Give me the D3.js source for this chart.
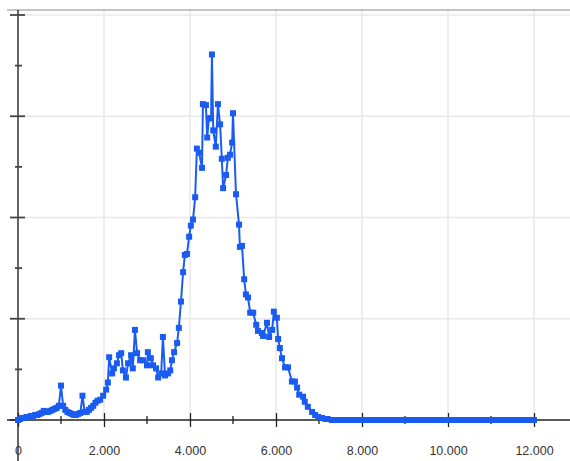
<!DOCTYPE html>
<html>
<head>
<meta charset="utf-8">
<script src="https://cdn.jsdelivr.net/npm/d3@7"></script>
<style>
  body { margin: 0; background: #fff; }
  svg { display: block; font-family: "Liberation Sans", Arial, sans-serif; }
</style>
</head>
<body>
<div id="chart"></div>
<script>
// values (x, y)
const xValues = [
  0, 50, 100, 150, 200, 250, 300, 350, 400, 450, 500, 550, 600, 650, 700, 750, 800, 850, 900, 950,
  1000, 1050, 1100, 1150, 1200, 1250, 1300, 1350, 1400, 1450, 1500, 1550, 1600, 1650, 1700, 1750,
  1800, 1850, 1910, 1980, 2050, 2090, 2120, 2190, 2230, 2300, 2350, 2400, 2440, 2510, 2560, 2630,
  2670, 2720, 2770, 2840, 2910, 3000, 3020, 3090, 3140, 3210, 3260, 3330, 3370, 3420, 3490, 3540,
  3580, 3630, 3700, 3740, 3790, 3840, 3880, 3930, 3980, 4020, 4070, 4120, 4160, 4210, 4280, 4300,
  4370, 4400, 4440, 4490, 4510, 4540, 4600, 4650, 4700, 4740, 4770, 4840, 4880, 4930, 4980, 5000,
  5070, 5140, 5160, 5210, 5260, 5300, 5350, 5400, 5470, 5540, 5580, 5670, 5700, 5790, 5840, 5910,
  5950, 6020, 6050, 6090, 6140, 6210, 6280, 6370, 6440, 6490, 6540, 6630, 6670, 6740, 6840, 6910,
  6980, 7070, 7150, 7200, 7300, 7400, 7500, 7600, 7700, 7800, 7900, 8000, 8100, 8200, 8300, 8400,
  8500, 8600, 8700, 8800, 8900, 9000, 9100, 9200, 9300, 9400, 9500, 9600, 9700, 9800, 9900, 10000,
  10100, 10200, 10300, 10400, 10500, 10600, 10700, 10800, 10900, 11000, 11100, 11200, 11300, 11400,
  11500, 11600, 11700, 11800, 11900, 12000
];
const yValues = [
  0, 1, 2, 2, 3, 3, 4, 4, 5, 5, 6, 7, 9, 8, 8, 9, 10, 11, 12, 14,
  34, 14, 10, 8, 7, 6, 5, 5, 6, 7, 24, 8, 8, 10, 12, 14,
  17, 19, 20, 24, 30, 37, 62, 46, 51, 56, 64, 66, 49, 42, 56, 64,
  51, 89, 66, 59, 59, 54, 67, 61, 54, 51, 42, 46, 82, 44, 46, 49,
  59, 67, 76, 91, 117, 146, 163, 164, 181, 192, 198, 220, 268, 264, 249, 312,
  311, 279, 298, 298, 361, 286, 270, 312, 292, 258, 229, 242, 259, 262, 274, 303,
  223, 193, 171, 172, 139, 124, 121, 106, 106, 94, 88, 86, 83, 96, 82, 89,
  107, 101, 80, 71, 61, 52, 52, 38, 38, 32, 25, 23, 18, 13, 8, 5,
  3, 2, 1, 1, 0, 0, 0, 0, 0, 0, 0, 0, 0, 0, 0, 0,
  0, 0, 0, 0, 0, 0, 0, 0, 0, 0, 0, 0, 0, 0, 0, 0,
  0, 0, 0, 0, 0, 0, 0, 0, 0, 0, 0, 0, 0, 0,
  0, 0, 0, 0, 0, 0
];
const xMajorTicks = [0, 2000, 4000, 6000, 8000, 10000, 12000];
const xMinorTicks = [1000, 3000, 5000, 7000, 9000, 11000];
const yMajorTicks = [0, 100, 200, 300, 400];
const yMinorTicks = [50, 150, 250, 350];

const data = xValues.map((d, i) => ({x: d, y: yValues[i]}));

const W = 570, H = 461;
const x0 = 18, xBase = 420;

const x = d3.scaleLinear().domain([0, 12000]).range([x0, 534]);
const y = d3.scaleLinear().domain([0, 400]).range([xBase, 15]);

const fmt = d3.formatLocale({decimal: ",", thousands: ".", grouping: [3], currency: ["", ""]}).format(",");

const svg = d3.select("#chart").append("svg")
    .attr("width", W)
    .attr("height", H);

// grid
svg.append("g")
    .selectAll("line")
    .data(yMajorTicks.slice(1))
    .enter().append("line")
    .attr("x1", x0).attr("x2", W)
    .attr("y1", d => y(d)).attr("y2", d => y(d))
    .attr("stroke", "#e8e8e8").attr("stroke-width", 1.5);

svg.append("g")
    .selectAll("line")
    .data(xMajorTicks.slice(1))
    .enter().append("line")
    .attr("x1", d => x(d)).attr("x2", d => x(d))
    .attr("y1", 10).attr("y2", xBase)
    .attr("stroke", "#e8e8e8").attr("stroke-width", 1.5);

// top border
svg.append("line")
    .attr("x1", 7).attr("x2", W)
    .attr("y1", 10).attr("y2", 10)
    .attr("stroke", "#8a8a8a").attr("stroke-width", 1.2);

// y axis line and ticks
svg.append("line")
    .attr("x1", x0).attr("x2", x0)
    .attr("y1", 10).attr("y2", H)
    .attr("stroke", "#111").attr("stroke-width", 1.3);

svg.append("g")
    .selectAll("line")
    .data(yMajorTicks)
    .enter().append("line")
    .attr("x1", 10).attr("x2", 25)
    .attr("y1", d => y(d)).attr("y2", d => y(d))
    .attr("stroke", "#444").attr("stroke-width", 1.8);

svg.append("g")
    .selectAll("line")
    .data(yMinorTicks)
    .enter().append("line")
    .attr("x1", 15).attr("x2", 22)
    .attr("y1", d => y(d)).attr("y2", d => y(d))
    .attr("stroke", "#444").attr("stroke-width", 1.8);

// x axis
svg.append("line")
    .attr("x1", 7).attr("x2", W)
    .attr("y1", xBase).attr("y2", xBase)
    .attr("stroke", "#222").attr("stroke-width", 1.3);

const xAxis = svg.append("g")
    .attr("transform", "translate(0," + xBase + ")")
    .call(d3.axisBottom(x).tickValues(xMajorTicks).tickFormat(fmt).tickSize(7).tickPadding(19));
xAxis.select(".domain").remove();
xAxis.selectAll(".tick line").attr("y1", -7).attr("stroke", "#222").attr("stroke-width", 1.3);
xAxis.selectAll(".tick text")
    .attr("font-size", 12.5)
    .attr("fill", "#333")
    .style("font-family", "'Liberation Sans', Arial, sans-serif");

svg.append("g")
    .selectAll("line")
    .data(xMinorTicks)
    .enter().append("line")
    .attr("x1", d => x(d)).attr("x2", d => x(d))
    .attr("y1", xBase - 4).attr("y2", xBase + 4)
    .attr("stroke", "#222").attr("stroke-width", 1.3);

// series
const line = d3.line()
    .x(d => x(d.x))
    .y(d => y(d.y));

svg.append("path")
    .datum(data)
    .attr("fill", "none")
    .attr("stroke", "#1a5cf2")
    .attr("stroke-width", 2)
    .attr("d", line);

const s = 6;
svg.append("g")
    .selectAll("rect")
    .data(data)
    .enter().append("rect")
    .attr("x", d => x(d.x) - s / 2)
    .attr("y", d => y(d.y) - s / 2)
    .attr("width", s)
    .attr("height", s)
    .attr("fill", "#1a5cf2");
</script>
</body>
</html>
